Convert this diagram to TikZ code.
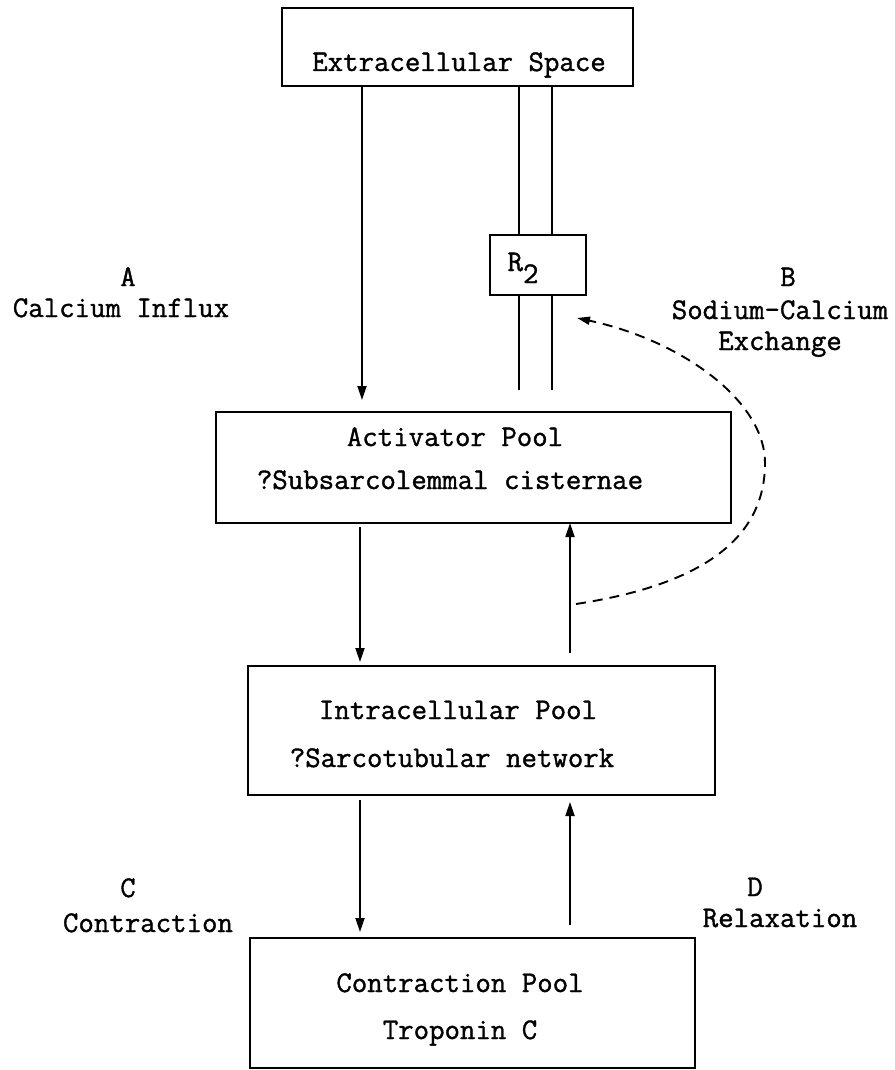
\documentclass[tikz,border=0pt]{standalone}
\usepackage{fontspec}
\newfontfamily\twfont{Latin Modern Mono}[FakeBold=1.2]
\usetikzlibrary{arrows.meta}
\begin{document}
\begin{tikzpicture}[x=1pt,y=-1pt,
  box/.style={draw,line width=2.2pt,inner sep=0pt,outer sep=0pt},
  txt/.style={anchor=base,inner sep=0pt,font=\twfont\fontsize{30}{36}\selectfont},
  conn/.style={line width=1.8pt},
  arr/.style={conn,-{Triangle[length=14pt,width=9pt]}},
  dasharr/.style={line width=1.9pt,dash pattern=on 10pt off 7pt,-{Triangle[length=13pt,width=8pt]}}]
\useasboundingbox (0,0) rectangle (894,1070);
% boxes
\node[box,minimum width=351pt,minimum height=78pt] (ext) at (457.5,47) {};
\node[box,minimum width=96pt,minimum height=60pt] (r2) at (538,265) {};
\node[box,minimum width=515pt,minimum height=111pt] (act) at (473.5,467.5) {};
\node[box,minimum width=467pt,minimum height=129pt] (intra) at (481.5,730.5) {};
\node[box,minimum width=445pt,minimum height=130pt] (contr) at (472.5,1003) {};
% texts in boxes
\node[txt] (extt) at (459,71) {Extracellular Space};
\node[txt] (r2t) at (523,271) {R\raisebox{-12pt}{2}};
\node[txt] (actt1) at (455,446) {Activator Pool};
\node[txt] (actt2) at (450,489) {?Subsarcolemmal cisternae};
\node[txt] (intt1) at (458,719) {Intracellular Pool};
\node[txt] (intt2) at (452,767) {?Sarcotubular network};
\node[txt] (cont1) at (460,992) {Contraction Pool};
\node[txt] (cont2) at (460,1039) {Troponin C};
% side labels
\node[txt] (la) at (128,286) {A};
\node[txt] (la2) at (121,317) {Calcium Influx};
\node[txt] (lb) at (788,286) {B};
\node[txt] (lb2) at (780,319) {Sodium-Calcium};
\node[txt] (lb3) at (780,350) {Exchange};
\node[txt] (lc) at (128,897) {C};
\node[txt] (lc2) at (148,932) {Contraction};
\node[txt] (ld) at (755,896) {D};
\node[txt] (ld2) at (780,927) {Relaxation};
% columns
\coordinate (cA) at (362,0);
\coordinate (cL) at (360,0);
\coordinate (cR) at (570,0);
\coordinate (d1) at (519,0);
\coordinate (d2) at (552,0);
% calcium influx
\draw[arr,shorten >=12pt] (ext.south -| cA) -- (act.north -| cA);
% double channel
\draw[conn] (ext.south -| d1) -- (r2.north -| d1);
\draw[conn] (ext.south -| d2) -- (r2.north -| d2);
\draw[conn,shorten >=22pt] (r2.south -| d1) -- (act.north -| d1);
\draw[conn,shorten >=22pt] (r2.south -| d2) -- (act.north -| d2);
% activator <-> intracellular
\draw[arr,shorten <=4pt,shorten >=4pt] (act.south -| cL) -- (intra.north -| cL);
\draw[arr,shorten <=13pt] (intra.north -| cR) -- (act.south -| cR);
% intracellular <-> contraction
\draw[arr,shorten <=5pt,shorten >=6pt] (intra.south -| cL) -- (contr.north -| cL);
\draw[arr,shorten <=13pt,shorten >=7pt] (contr.north -| cR) -- (intra.south -| cR);
% sodium-calcium exchange
\coordinate (ns1) at (576,604);
\coordinate (ns2) at (577,318);
\draw[dasharr] (ns1) .. controls (700,585) and (765,540) .. (765,463)
  .. controls (765,400) and (680,340) .. (ns2);
\end{tikzpicture}
\end{document}
